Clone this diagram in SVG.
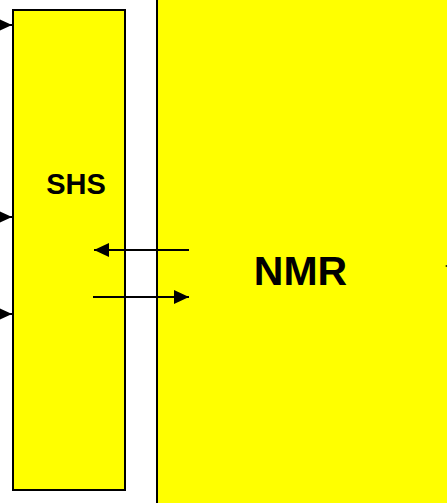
<svg xmlns="http://www.w3.org/2000/svg" width="447" height="503" viewBox="0 0 447 503">
<style>
.box{fill:#ffff00;stroke:#000;stroke-width:2}
.lbl{font-family:"Liberation Sans",Arial,sans-serif;font-weight:bold;fill:#000;text-anchor:middle}
.conn{stroke:#000;stroke-width:2;fill:none}
</style>
<defs>
<marker id="ah" viewBox="0 0 15 14" refX="15" refY="7" markerWidth="15" markerHeight="14" markerUnits="userSpaceOnUse" orient="auto">
<path d="M0,0 L15,7 L0,14 Z" fill="#000"/>
</marker>
</defs>
<rect width="447" height="503" fill="#fff"/>
<g id="nmr">
<rect class="box" x="157" y="-10" width="310" height="530"/>
<text class="lbl" x="300.5" y="284.5" font-size="41">NMR</text>
</g>
<g id="shs">
<rect class="box" x="13" y="10" width="112" height="480"/>
<text class="lbl" x="76" y="193.5" font-size="29">SHS</text>
</g>
<g id="connectors">
<line class="conn" x1="-30" y1="25" x2="12" y2="25" marker-end="url(#ah)"/>
<line class="conn" x1="-30" y1="217" x2="12" y2="217" marker-end="url(#ah)"/>
<line class="conn" x1="-30" y1="314" x2="12" y2="314" marker-end="url(#ah)"/>
<line class="conn" x1="189" y1="250" x2="94" y2="250" marker-end="url(#ah)"/>
<line class="conn" x1="93" y1="297" x2="189" y2="297" marker-end="url(#ah)"/>
<path d="M445,266 L460,259 L460,273 Z" fill="#000"/>
</g>
</svg>
